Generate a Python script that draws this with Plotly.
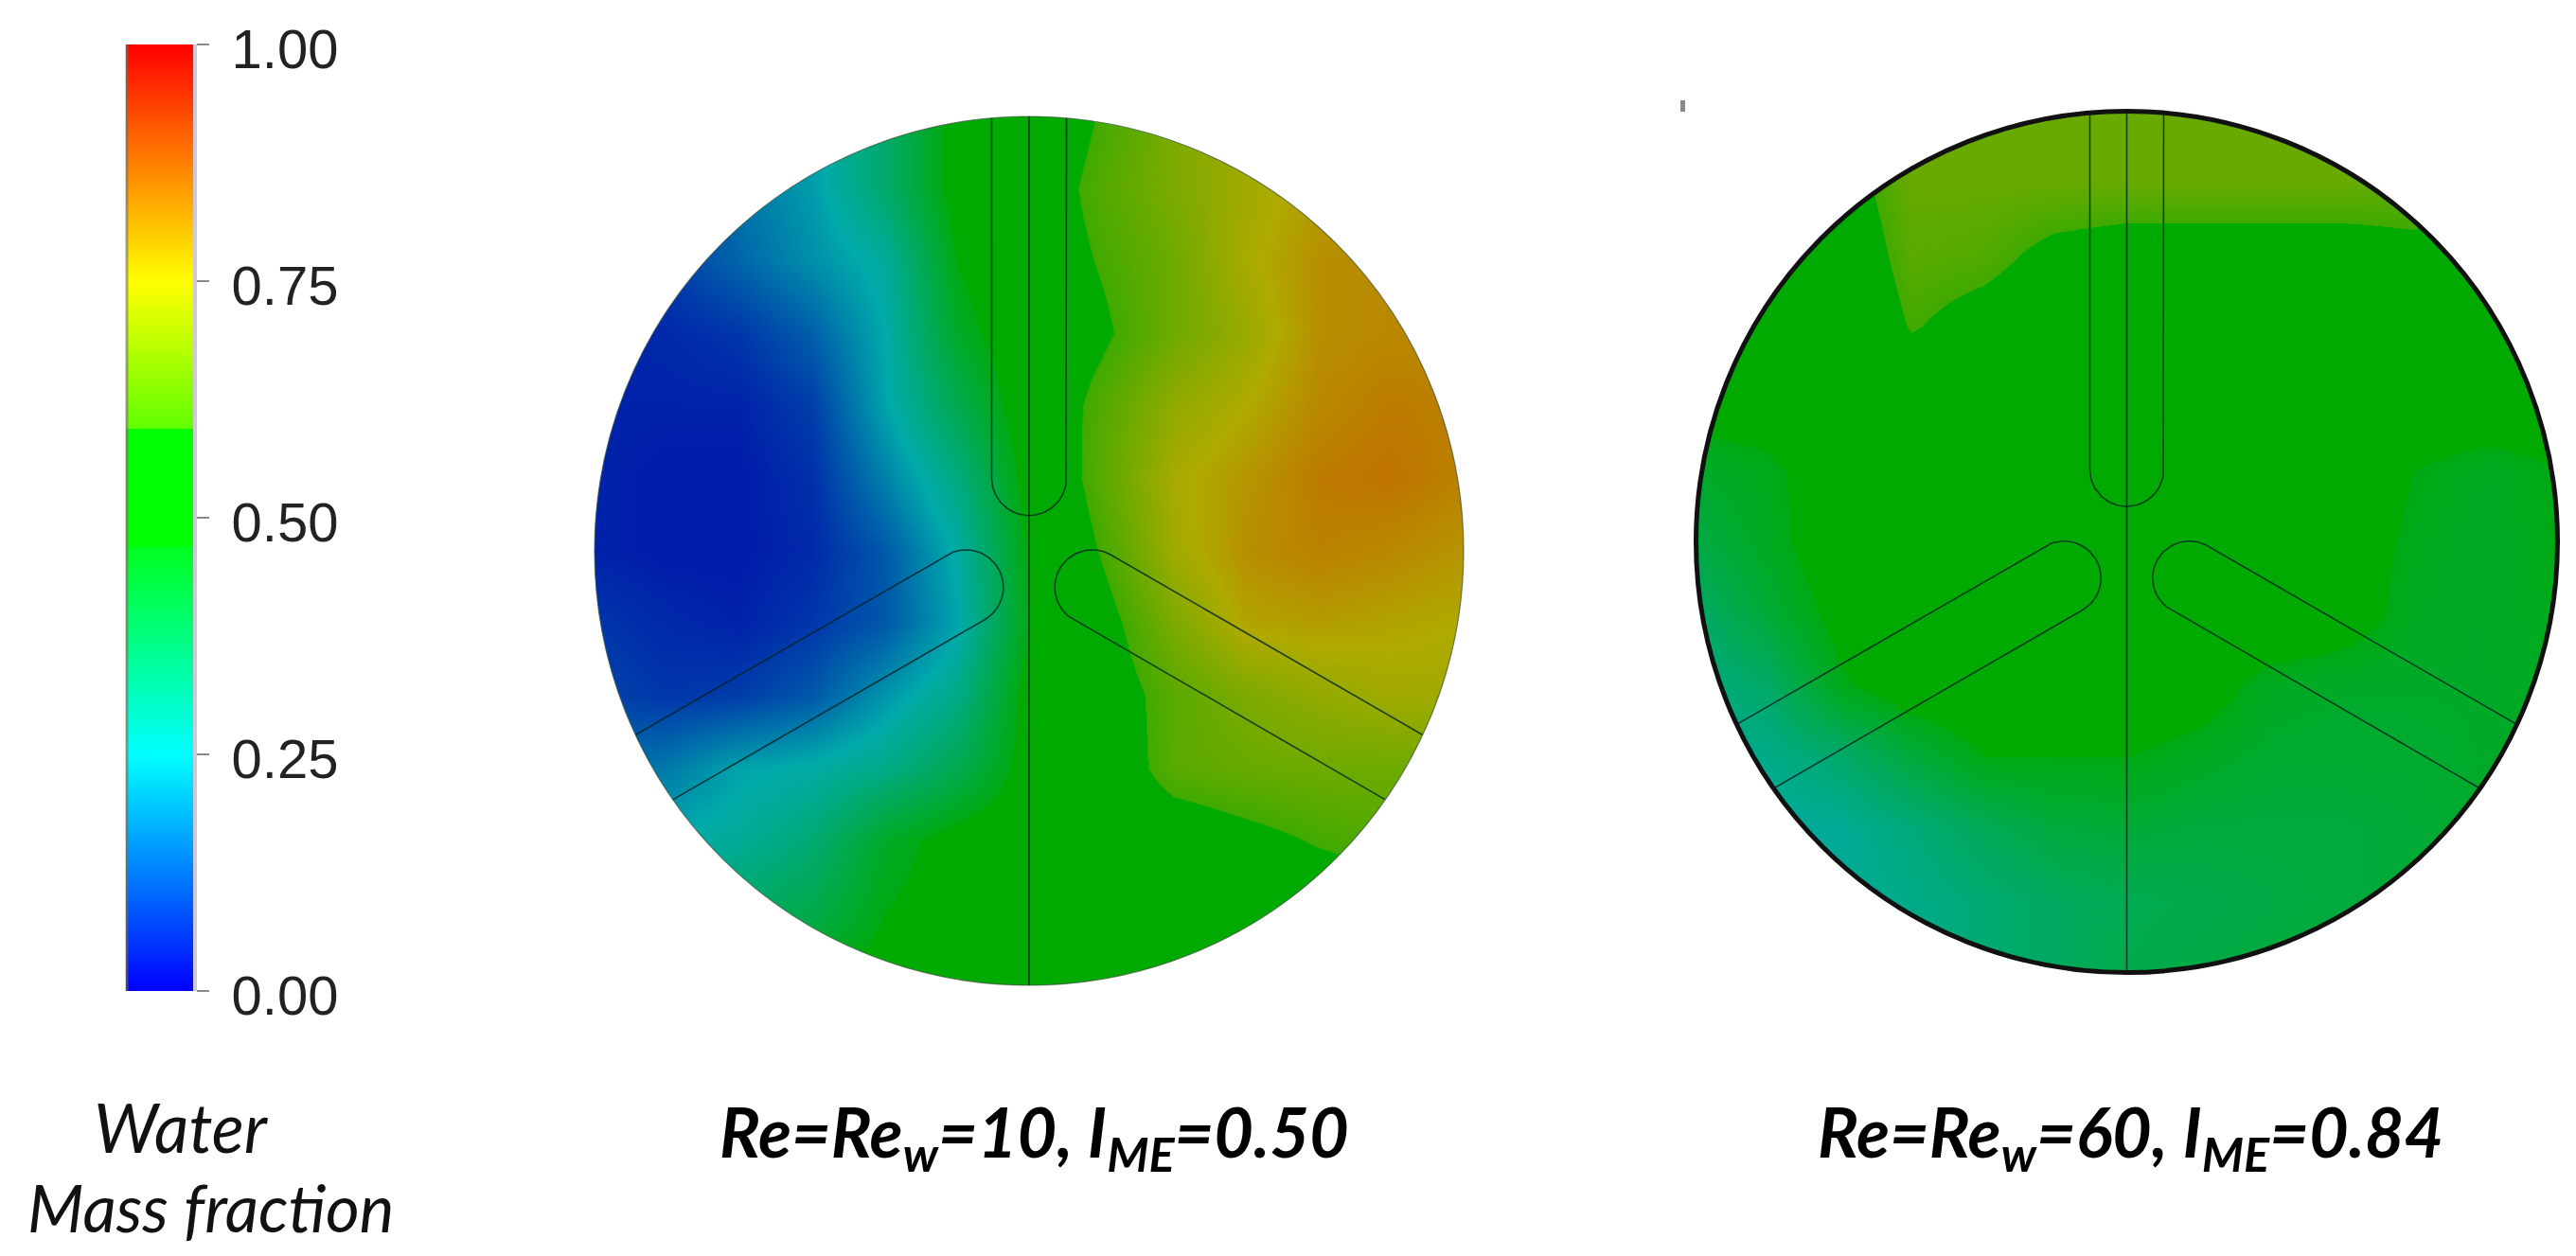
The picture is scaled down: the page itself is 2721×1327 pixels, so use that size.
import numpy as np
import plotly.graph_objects as go

W, H = 2721, 1327

# Shared grid of the two discs, unit radius
GRID = [-1, -5/6, -4/6, -3/6, -2/6, -1/6, 0, 1/6, 2/6, 3/6, 4/6, 5/6, 1]

# Water mass fraction, Re=Rew=10 (rows top to bottom)
Z_RE10 = [
    [.12, .12, .18, .24, .34, .50, .52, .60, .68, .74, .78, .80, .80],
    [.06, .08, .17, .23, .34, .50, .54, .62, .68, .73, .77, .79, .80],
    [.05, .09, .15, .21, .27, .47, .54, .60, .66, .74, .79, .80, .80],
    [.05, .06, .08, .14, .25, .44, .53, .58, .66, .72, .79, .80, .80],
    [.05, .05, .05, .09, .24, .38, .52, .62, .71, .75, .80, .82, .81],
    [.05, .04, .04, .07, .19, .31, .50, .63, .74, .78, .82, .83, .81],
    [.05, .04, .04, .06, .13, .26, .48, .60, .73, .79, .81, .80, .78],
    [.08, .06, .05, .08, .13, .24, .47, .56, .68, .76, .77, .76, .75],
    [.10, .08, .09, .13, .22, .30, .50, .54, .63, .68, .71, .73, .73],
    [.15, .18, .24, .26, .30, .38, .50, .53, .63, .65, .66, .66, .66],
    [.25, .25, .28, .33, .44, .50, .52, .53, .54, .57, .60, .62, .62],
    [.33, .33, .35, .39, .47, .50, .52, .52, .53, .53, .54, .55, .55],
    [.45, .45, .45, .47, .50, .51, .52, .52, .53, .53, .54, .55, .55],
]

# Water mass fraction, Re=Rew=60 (rows top to bottom)
Z_RE60 = [
    [.50, .55, .60, .65, .65, .65, .65, .65, .65, .65, .65, .60, .60],
    [.50, .50, .55, .65, .65, .65, .65, .65, .65, .65, .64, .60, .60],
    [.50, .50, .52, .63, .62, .57, .55, .55, .55, .55, .57, .55, .55],
    [.50, .50, .50, .60, .56, .53, .52, .52, .52, .52, .52, .52, .52],
    [.50, .50, .52, .53, .52, .52, .52, .52, .52, .52, .51, .51, .50],
    [.44, .46, .50, .52, .52, .52, .52, .52, .52, .51, .47, .45, .47],
    [.40, .45, .51, .52, .52, .52, .52, .52, .52, .50, .46, .44, .47],
    [.35, .42, .49, .52, .52, .52, .52, .52, .52, .50, .45, .44, .46],
    [.31, .35, .46, .51, .52, .52, .52, .50, .45, .44, .44, .44, .45],
    [.29, .30, .34, .41, .47, .47, .47, .45, .43, .43, .43, .44, .45],
    [.27, .27, .28, .32, .37, .41, .42, .41, .41, .41, .42, .44, .45],
    [.27, .27, .28, .30, .33, .36, .38, .39, .40, .41, .42, .44, .45],
    [.27, .27, .28, .30, .33, .36, .39, .40, .41, .42, .43, .44, .45],
]

# Colour bar
BAR_RANGE = [0, 1]
TICK_VALUES = [0, 0.25, 0.5, 0.75, 1]
TICK_LABELS = ["0.00", "0.25", "0.50", "0.75", "1.00"]

STOPS = [0, .25, .47, .4701, .594, .5941, .75, 1]
BRIGHT = ["rgb(0,0,255)", "rgb(0,255,255)", "rgb(0,255,30)", "rgb(0,255,0)",
          "rgb(0,255,0)", "rgb(96,255,0)", "rgb(255,255,0)", "rgb(255,0,0)"]
SHADED = ["rgb(0,0,170)", "rgb(0,170,170)", "rgb(0,170,20)", "rgb(0,170,0)",
          "rgb(0,170,0)", "rgb(64,170,0)", "rgb(175,170,0)", "rgb(225,0,0)"]

LABEL_A = "<b><i>Re=Re<sub>w</sub>=10, I<sub>ME</sub>=0.50</i></b>"
LABEL_B = "<b><i>Re=Re<sub>w</sub>=60, I<sub>ME</sub>=0.84</i></b>"

PAD = 1.03


def xdom(c, r):
    return [(c - r * PAD) / W, (c + r * PAD) / W]


def ydom(c, r):
    return [1 - (c + r * PAD) / H, 1 - (c - r * PAD) / H]


def tine(angle_deg, half, tip):
    """Outline of one rounded slot, from rim to rim, pointing at the centre."""
    a = np.radians(angle_deg)
    d = np.array([np.cos(a), np.sin(a)])
    n = np.array([-d[1], d[0]])
    rim = np.sqrt(1 - half ** 2)
    cap = tip + half
    t = np.linspace(-np.pi / 2, np.pi / 2, 40)
    arc = [cap * d + half * (np.sin(s) * n - np.cos(s) * d) for s in t]
    pts = [rim * d - half * n] + arc + [rim * d + half * n]
    return [p[0] for p in pts], [p[1] for p in pts]


def mask_path(cx, cy, r):
    """White sheet with a round hole, in page fractions so no subplot clip applies."""
    def px(u, v):
        return f"{(cx + r * u) / W:.6f},{1 - (cy - r * v) / H:.6f}"
    t = np.linspace(0, 2 * np.pi, 361)
    ring = " L".join(px(np.cos(s), np.sin(s)) for s in t)
    e = PAD + 0.02
    return f"M{px(-e, -e)} L{px(e, -e)} L{px(e, e)} L{px(-e, e)} Z M{ring} Z"


fig = go.Figure()
discs = [
    ("x", "y", Z_RE10, 39.5 / 459, 37.5 / 459),
    ("x2", "y2", Z_RE60, 39 / 455, 37.5 / 455),
]
colorscale_shaded = [[s, c] for s, c in zip(STOPS, SHADED)]
colorscale_bright = [[s, c] for s, c in zip(STOPS, BRIGHT)]
LINE = dict(color="rgba(0,35,35,0.8)", width=1.6)

for xa, ya, z, half, tip in discs:
    # rows are listed top to bottom, the y axis runs upward
    fig.add_trace(go.Heatmap(x=GRID, y=GRID, z=z[::-1], xaxis=xa, yaxis=ya, zmin=0, zmax=1,
                             zsmooth="best", colorscale=colorscale_shaded,
                             showscale=False, hoverinfo="skip"))
    for ang in (90, 210, 330):
        tx, ty = tine(ang, half, tip)
        fig.add_trace(go.Scatter(x=tx, y=ty, mode="lines", line=LINE, xaxis=xa, yaxis=ya,
                                 showlegend=False, hoverinfo="skip"))
    fig.add_trace(go.Scatter(x=[0, 0], y=[-1, 1], mode="lines", line=LINE, xaxis=xa, yaxis=ya,
                             showlegend=False, hoverinfo="skip"))

fig.add_trace(go.Heatmap(x=[0, 1], y=BAR_RANGE, z=[[0, 0], [1, 1]], xaxis="x3", yaxis="y3",
                         zmin=0, zmax=1, zsmooth="best", colorscale=colorscale_bright,
                         showscale=False, hoverinfo="skip"))

hidden = dict(visible=False, range=[-PAD, PAD], fixedrange=True, automargin=False)
shapes = []
for xr, yr, edge, cx, cy, r in (
        ("x", "y", dict(color="rgba(60,80,60,0.7)", width=1.2), 1087, 582, 459),
        ("x2", "y2", dict(color="#111111", width=5), 2246.5, 572.5, 455)):
    shapes.append(dict(type="path", path=mask_path(cx, cy, r), xref="paper", yref="paper",
                       fillcolor="white", line=dict(width=0), layer="above"))
    shapes.append(dict(type="circle", x0=-1, x1=1, y0=-1, y1=1, xref=xr, yref=yr,
                       line=edge, layer="above"))
# stray mark above the second disc
shapes.append(dict(type="rect", xref="paper", yref="paper", x0=1775 / W, x1=1780 / W,
                   y0=1 - 118 / H, y1=1 - 106 / H, fillcolor="#8a8a8a", line=dict(width=0)))
# soft left edge of the colour bar
shapes.append(dict(type="line", xref="paper", yref="paper", x0=134 / W, x1=134 / W,
                   y0=1 - 1047 / H, y1=1 - 47 / H,
                   line=dict(color="rgba(110,110,90,0.55)", width=3)))

fig.update_layout(
    width=W, height=H, autosize=False, margin=dict(l=0, r=0, t=0, b=0, pad=0),
    paper_bgcolor="white", plot_bgcolor="white", showlegend=False, shapes=shapes,
    xaxis=dict(domain=xdom(1087, 459), **hidden),
    yaxis=dict(domain=ydom(582, 459), **hidden),
    xaxis2=dict(domain=xdom(2246.5, 455), **hidden),
    yaxis2=dict(domain=ydom(572.5, 455), **hidden),
    xaxis3=dict(domain=[133 / W, 204 / W], range=[0, 1], visible=False, fixedrange=True,
                automargin=False),
    yaxis3=dict(domain=[1 - 1047 / H, 1 - 47 / H], range=BAR_RANGE, anchor="x3", side="right",
                tickmode="array", tickvals=TICK_VALUES, ticktext=TICK_LABELS,
                ticks="outside", ticklen=13, tickwidth=2, tickcolor="#8a8a8a",
                showline=True, linecolor="#cfc8d8", linewidth=4, showgrid=False, zeroline=False,
                ticklabelstandoff=12, ticklabelshift=5, fixedrange=True, automargin=False,
                tickfont=dict(family="Liberation Sans", size=58, color="#222222")),
    annotations=[
        dict(text="<i>Water</i>", xref="paper", yref="paper", x=191 / W, y=1 - 1190 / H,
             showarrow=False, xanchor="center", yanchor="middle",
             font=dict(family="Lato", size=71, color="#111111")),
        dict(text="<i>Mass fraction</i>", xref="paper", yref="paper", x=222 / W, y=1 - 1275 / H,
             showarrow=False, xanchor="center", yanchor="middle",
             font=dict(family="Lato", size=69, color="#111111")),
        dict(text=LABEL_A, xref="paper", yref="paper", x=1092 / W, y=1 - 1200 / H,
             showarrow=False, xanchor="center", yanchor="middle",
             font=dict(family="Lato", size=72, color="black")),
        dict(text=LABEL_B, xref="paper", yref="paper", x=2250 / W, y=1 - 1200 / H,
             showarrow=False, xanchor="center", yanchor="middle",
             font=dict(family="Lato", size=72, color="black")),
    ],
)

fig.write_html("out.html", config={"displayModeBar": False},
               post_script="document.body.style.margin='0';document.body.style.overflow='hidden';")
